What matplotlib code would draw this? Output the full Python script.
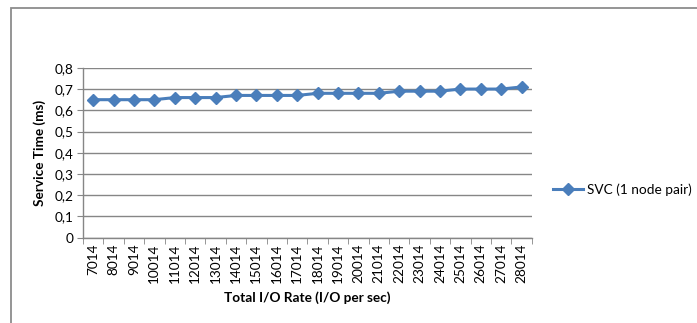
import matplotlib.pyplot as plt
from matplotlib.patches import Rectangle

plt.rcParams['font.family'] = ['Lato', 'DejaVu Sans']

io_rate = ['7014', '8014', '9014', '10014', '11014', '12014', '13014', '14014',
           '15014', '16014', '17014', '18014', '19014', '20014', '21014', '22014',
           '23014', '24014', '25014', '26014', '27014', '28014']
service_time = [0.65, 0.65, 0.65, 0.65, 0.66, 0.66, 0.66, 0.67, 0.67, 0.67, 0.67,
                0.68, 0.68, 0.68, 0.68, 0.69, 0.69, 0.69, 0.70, 0.70, 0.70, 0.71]
y_ticks = [0, 0.1, 0.2, 0.3, 0.4, 0.5, 0.6, 0.7, 0.8]
y_labels = ['0', '0,1', '0,2', '0,3', '0,4', '0,5', '0,6', '0,7', '0,8']

fig = plt.figure(figsize=(6.97, 3.23), dpi=100)
ax = fig.add_axes([0.119, 0.264, 0.644, 0.526])

x = list(range(len(io_rate)))
ax.plot(x, service_time, color='#4A7EBB', linewidth=2.2, marker='D',
        markersize=6, label='SVC (1 node pair)')

ax.set_xlim(-0.5, len(io_rate) - 0.5)
ax.set_ylim(0, 0.8)
ax.set_yticks(y_ticks)
ax.set_yticklabels(y_labels, fontsize=9.8)
ax.set_xticks(x)
ax.set_xticklabels(io_rate, rotation=90, fontsize=9.8)
ax.tick_params(axis='x', length=0, pad=4)
ax.set_xticks([i - 0.5 for i in range(len(io_rate) + 1)], minor=True)
ax.tick_params(axis='x', which='minor', length=4, color='#868686', direction='out')
ax.tick_params(axis='y', length=4, color='#868686', pad=3)

ax.yaxis.grid(True, color='#868686', linewidth=1)
ax.set_axisbelow(True)
for s in ['top', 'right']:
    ax.spines[s].set_visible(False)
for s in ['left', 'bottom']:
    ax.spines[s].set_color('#868686')
    ax.spines[s].set_linewidth(1)

ax.set_ylabel('Service Time (ms)', fontsize=9.8, fontweight='bold', labelpad=6)
ax.set_xlabel('Total I/O Rate (I/O per sec)', fontsize=9.8, fontweight='bold', labelpad=6)

ax.legend(loc='center left', bbox_to_anchor=(1.02, 0.285), frameon=False,
          fontsize=9.8, handlelength=2.2, handletextpad=0.3)

fig.patches.append(Rectangle((11 / 697, -0.1), 1.2, 1 - 8 / 323 + 0.1,
                             transform=fig.transFigure, fill=False,
                             edgecolor='#8C8C8C', linewidth=1.3))

fig.savefig('out.png', dpi=100)
